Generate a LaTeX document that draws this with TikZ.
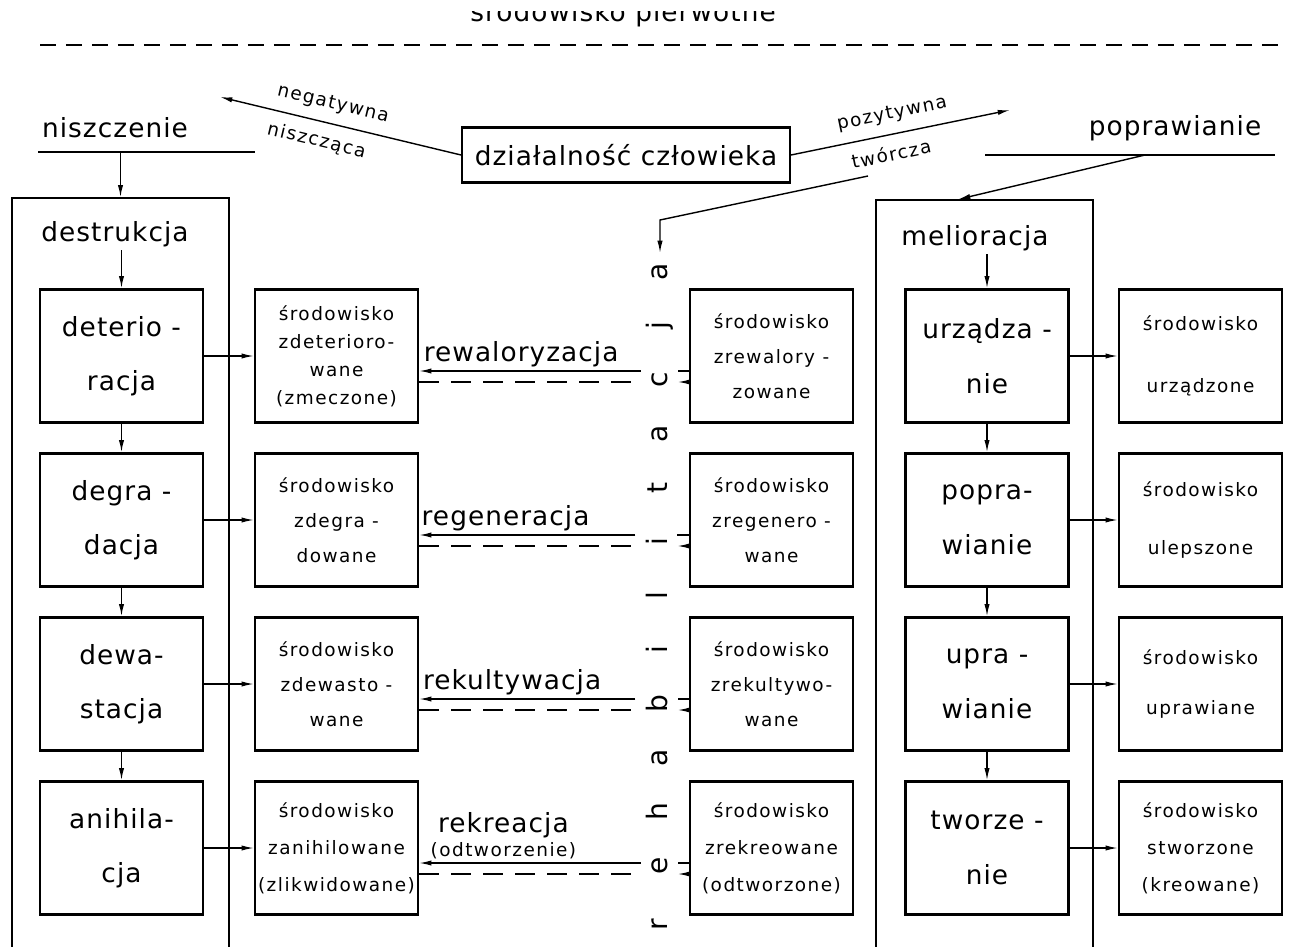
\documentclass[tikz,border=0pt]{standalone}
\usepackage{fontspec}
\setmainfont{DejaVu Sans}
\newfontfamily\bigfam{DejaVu Sans}[LetterSpace=4]
\newfontfamily\smfam{DejaVu Sans}[LetterSpace=8]
\usetikzlibrary{arrows.meta}

\newcommand\biglab{\bigfam\fontsize{15}{31}\selectfont}
\newcommand\smlab{\smfam\fontsize{10.5}{19}\selectfont}

\begin{document}
\begin{tikzpicture}[
    x=0.02cm,y=-0.02cm,
    >={Latex[length=7pt,width=3pt]},
    arr/.style={->,line width=0.8pt},
    rarr/.style={<-,line width=0.8pt},
    sepline/.style={line width=0.8pt},
    dashline/.style={line width=0.8pt,dash pattern=on 0.4cm off 0.24cm},
    bigframe/.style={draw,line width=0.8pt,minimum width=4.34cm,minimum height=15.84cm},
    procbox/.style={draw,line width=1.3pt,minimum width=3.26cm,minimum height=2.66cm,inner sep=1pt,align=center,font=\biglab},
    envbox/.style={procbox,font=\smfam\fontsize{10.5}{#1}\selectfont},
    envbox/.default=20pt,
    bigtext/.style={font=\biglab,inner sep=2pt},
    smalltext/.style={font=\smlab,inner sep=2pt},
    rehab/.style={rotate=90,anchor=base,inner sep=0.2cm,font=\fontsize{16}{18}\selectfont}
]
\useasboundingbox (0,0) rectangle (1290,946);

% Top: primary environment (cut off by the page edge)
\begin{scope}
\clip (0,12) rectangle (1290,40);
\node[bigtext,anchor=base] (pierw) at (623,22) {środowisko pierwotne};
\end{scope}
\draw[line width=1.6pt,dash pattern=on 0.32cm off 0.2cm] (40,45) -- (1285,45);

% Human activity
\node[draw,line width=1.2pt,minimum width=6.56cm,minimum height=1.1cm,font=\biglab] (dz) at (626,155) {działalność człowieka};

% Destruction / improvement headers
\node[bigtext,anchor=base] (nisz) at (115,137) {niszczenie};
\node[bigtext,anchor=base] (popr) at (1175,135) {poprawianie};
\coordinate (nA) at (38,152);
\coordinate (nB) at (255,152);
\coordinate (pA) at (985,155);
\coordinate (pB) at (1275,155);
\coordinate (pM) at (1145,155);
\draw[sepline] (nA) -- (nB);
\draw[sepline] (pA) -- (pB);

% Frames
\node[bigframe] (destr) at (120.5,594) {};
\node[bigframe] (melio) at (984.5,596) {};
\node[bigtext,anchor=base] (destrl) at (115,241) {destrukcja};
\node[bigtext,anchor=base] (meliol) at (975,245) {melioracja};

% Rehabilitation (vertical letters)
\node[rehab] (L1) at (667,272) {a};
\node[rehab] (L2) at (667,326) {j};
\node[rehab] (L3) at (667,380) {c};
\node[rehab] (L4) at (667,434) {a};
\node[rehab] (L5) at (667,488) {t};
\node[rehab] (L6) at (667,542) {i};
\node[rehab] (L7) at (667,596) {l};
\node[rehab] (L8) at (667,650) {i};
\node[rehab] (L9) at (667,704) {b};
\node[rehab] (L10) at (667,758) {a};
\node[rehab] (L11) at (667,812) {h};
\node[rehab] (L12) at (667,866) {e};
\node[rehab] (L13) at (667,925) {r};

% Destruction processes
\node[procbox] (d1) at (121.5,356) {deterio -\\racja};
\node[procbox] (d2) at (121.5,520) {degra -\\dacja};
\node[procbox] (d3) at (121.5,684) {dewa-\\stacja};
\node[procbox] (d4) at (121.5,848) {anihila-\\cja};

% Destroyed environments
\node[envbox=16pt] (s1) at (336.5,356) {środowisko\\zdeterioro-\\wane\\(zmeczone)};
\node[envbox] (s2) at (336.5,520) {środowisko\\zdegra -\\dowane};
\node[envbox] (s3) at (336.5,684) {środowisko\\zdewasto -\\wane};
\node[envbox=21pt] (s4) at (336.5,848) {środowisko\\zanihilowane\\(zlikwidowane)};

% Rehabilitated environments
\node[envbox] (z1) at (771.5,356) {środowisko\\zrewalory -\\zowane};
\node[envbox] (z2) at (771.5,520) {środowisko\\zregenero -\\wane};
\node[envbox] (z3) at (771.5,684) {środowisko\\zrekultywo-\\wane};
\node[envbox=21pt] (z4) at (771.5,848) {środowisko\\zrekreowane\\(odtworzone)};

% Melioration processes
\node[procbox] (m1) at (987,356) {urządza -\\nie};
\node[procbox] (m2) at (987,520) {popra-\\wianie};
\node[procbox] (m3) at (987,684) {upra -\\wianie};
\node[procbox] (m4) at (987,848) {tworze -\\nie};

% Improved environments
\node[envbox=35pt] (w1) at (1200.5,356) {środowisko\\urządzone};
\node[envbox=33pt] (w2) at (1200.5,520) {środowisko\\ulepszone};
\node[envbox=28pt] (w3) at (1200.5,684) {środowisko\\uprawiane};
\node[envbox=21pt] (w4) at (1200.5,848) {środowisko\\stworzone\\(kreowane)};

% Activity arrows
\coordinate (neg) at (220,97);
\coordinate (poz) at (1010,110);
\draw[rarr] (neg) -- (dz.west)
    node[smalltext,sloped,pos=0.45,above=4pt] {negatywna}
    node[smalltext,sloped,pos=0.42,below=4pt] {niszcząca};
\draw[arr] (dz.east) -- (poz)
    node[smalltext,sloped,pos=0.48,above=4pt] {pozytywna}
    node[smalltext,sloped,pos=0.44,below=4pt] {twórcza};
\coordinate (tw1) at (868,176);
\coordinate (tw2) at (660,220);
\draw[arr] (tw1) -- (tw2) -- (tw2 |- L1.east);

% Into the frames
\draw[arr] (nA -| destr.north) -- (destr.north);
\draw[arr] (pM) -- ([xshift=-0.53cm]melio.north);
\draw[arr] (d1.north |- destrl.south) -- (d1.north);
\draw[arr] (m1.north |- meliol.south) -- (m1.north);

% Vertical chains
\draw[arr] (d1.south) -- (d2.north);
\draw[arr] (d2.south) -- (d3.north);
\draw[arr] (d3.south) -- (d4.north);
\draw[arr] (m1.south) -- (m2.north);
\draw[arr] (m2.south) -- (m3.north);
\draw[arr] (m3.south) -- (m4.north);

% Process to environment
\draw[arr] (d1.east) -- (s1.west);
\draw[arr] (d2.east) -- (s2.west);
\draw[arr] (d3.east) -- (s3.west);
\draw[arr] (d4.east) -- (s4.west);
\draw[arr] (m1.east) -- (w1.west);
\draw[arr] (m2.east) -- (w2.west);
\draw[arr] (m3.east) -- (w3.west);
\draw[arr] (m4.east) -- (w4.west);

% Row 1: rewaloryzacja
\coordinate (a1) at ([yshift=-0.3cm]z1.west);
\coordinate (b1) at ([yshift=-0.52cm]z1.west);
\draw[arr] (a1 -| L3.north) -- (a1 -| s1.east) node[bigtext,above,pos=0.54] {rewaloryzacja};
\draw[sepline] (a1) -- (a1 -| L3.south);
\draw[dashline] (b1 -| s1.east) -- (b1 -| L3.north);
\draw[arr] (b1) -- (b1 -| L3.south);

% Row 2: regeneracja
\coordinate (a2) at ([yshift=-0.3cm]z2.west);
\coordinate (b2) at ([yshift=-0.52cm]z2.west);
\draw[arr] (a2 -| L6.north) -- (a2 -| s2.east) node[bigtext,above,pos=0.6] {regeneracja};
\draw[sepline] (a2) -- (a2 -| L6.south);
\draw[dashline] (b2 -| s2.east) -- (b2 -| L6.north);
\draw[arr] (b2) -- (b2 -| L6.south);

% Row 3: rekultywacja
\coordinate (a3) at ([yshift=-0.3cm]z3.west);
\coordinate (b3) at ([yshift=-0.52cm]z3.west);
\draw[arr] (a3 -| L9.north) -- (a3 -| s3.east) node[bigtext,above,pos=0.57] {rekultywacja};
\draw[sepline] (a3) -- (a3 -| L9.south);
\draw[dashline] (b3 -| s3.east) -- (b3 -| L9.north);
\draw[arr] (b3) -- (b3 -| L9.south);

% Row 4: rekreacja
\coordinate (a4) at ([yshift=-0.3cm]z4.west);
\coordinate (b4) at ([yshift=-0.52cm]z4.west);
\draw[arr] (a4 -| L12.north) -- (a4 -| s4.east)
    node[smalltext,above=0pt,pos=0.62] {(odtworzenie)}
    node[bigtext,above=12pt,pos=0.62] {rekreacja};
\draw[sepline] (a4) -- (a4 -| L12.south);
\draw[dashline] (b4 -| s4.east) -- (b4 -| L12.north);
\draw[arr] (b4) -- (b4 -| L12.south);

\end{tikzpicture}
\end{document}
